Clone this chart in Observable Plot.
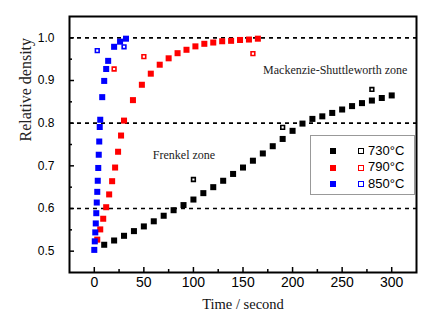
<!DOCTYPE html>
<html><head><meta charset="utf-8">
<script src="https://cdn.jsdelivr.net/npm/d3@7"></script>
<script src="https://cdn.jsdelivr.net/npm/@observablehq/plot@0.6"></script>
<style>
body{margin:0;background:#fff;}
#wrap{position:relative;width:431px;height:322px;}
#legend{position:absolute;left:310px;top:135px;width:105px;height:60px;box-sizing:border-box;border:1px solid #999;background:#fff;font-family:"Liberation Sans",Arial,sans-serif;font-size:13px;color:#000;}
.f{position:absolute;width:6px;height:6px;}
.o{position:absolute;width:6px;height:6px;box-sizing:border-box;border:1.6px solid;background:#fff;}
.t{position:absolute;line-height:14px;white-space:nowrap;}
</style>
</head><body>
<div id="wrap"><div id="legend"></div></div>
<script>
// ---- data ----
const t730 = [10,20,30,40,50,60,70,80,90,100,110,120,130,140,150,160,170,180,190,200,210,220,230,240,250,260,270,280,290,300];
const v730 = [0.515,0.525,0.536,0.547,0.558,0.570,0.583,0.596,0.608,0.621,0.636,0.650,0.665,0.681,0.696,0.712,0.729,0.746,0.763,0.782,0.799,0.810,0.816,0.824,0.832,0.840,0.847,0.853,0.859,0.865];
const t730open = [100,190,280];
const v730open = [0.668,0.790,0.879];

const t790 = [3,6,9,12,15,18,21,24,27,30,39,48,57,66,75,84,93,102,111,120,129,138,147,156,165];
const v790 = [0.527,0.551,0.576,0.603,0.633,0.664,0.696,0.733,0.771,0.806,0.854,0.890,0.916,0.937,0.952,0.964,0.972,0.980,0.986,0.989,0.992,0.993,0.995,0.996,0.998];
const t790open = [20,50,160];
const v790open = [0.927,0.956,0.963];

const t850 = [0,0.5,1,1.5,2,2.5,3,3.5,4,4.5,5,5.5,6,8,10,12,14,20,26,32];
const v850 = [0.503,0.523,0.544,0.565,0.589,0.614,0.639,0.665,0.695,0.726,0.757,0.791,0.808,0.861,0.899,0.927,0.946,0.979,0.991,0.998];
const t850open = [3,30];
const v850open = [0.970,0.979];

const seriesNames = ["730°C","790°C","850°C"];
const seriesColors = ["#000000","#ff0000","#0000ff"];

const xMajor = [0,50,100,150,200,250,300];
const xMinor = [25,75,125,175,225,275];
const yMajor = [0.5,0.6,0.7,0.8,0.9,1.0];
const yMinor = [0.55,0.65,0.75,0.85,0.95];
const dashLevels = [0.6,0.8,1.0];

const notes = [
  {x:243, y:0.924, text:"Mackenzie-Shuttleworth zone"},
  {x:90.5, y:0.725, text:"Frenkel zone"}
];

// ---- build ----
const zip = (t,v) => t.map((d,i)=>({t:d, v:v[i]}));
const filled = [zip(t730,v730), zip(t790,v790), zip(t850,v850)];
const open = [zip(t730open,v730open), zip(t790open,v790open), zip(t850open,v850open)];

const W=431, H=322, mL=69, mR=15, mT=16, mB=50;
const pw = W-mL-mR, ph = H-mT-mB;
const serif = "Liberation Serif, Times New Roman, serif";

const marks = [
  Plot.ruleY(dashLevels, {stroke:"#000", strokeWidth:1.6, strokeDasharray:"4,4"}),
  Plot.axisX(xMajor, {tickSize:0, tickPadding:5, fontSize:14, label:null}),
  Plot.axisY(yMajor, {tickSize:0, tickPadding:15, fontSize:12, tickFormat:d3.format(".1f"), label:null}),
  Plot.tickX(xMajor, {x:d=>d, insetTop:ph-5, stroke:"#000", strokeWidth:1.5}),
  Plot.tickX(xMinor, {x:d=>d, insetTop:ph-3, stroke:"#000", strokeWidth:1.5}),
  Plot.tickY(yMajor, {y:d=>d, insetRight:pw-5, stroke:"#000", strokeWidth:1.5}),
  Plot.tickY(yMinor, {y:d=>d, insetRight:pw-3, stroke:"#000", strokeWidth:1.5}),
];
filled.forEach((d,i)=>{
  marks.push(Plot.dot(d, {x:"t", y:"v", symbol:"square", r:3.4, fill:seriesColors[i], stroke:"none"}));
});
open.forEach((d,i)=>{
  marks.push(Plot.dot(d, {x:"t", y:"v", symbol:"square", r:2.1, fill:"#fff", stroke:seriesColors[i], strokeWidth:1.6}));
});
marks.push(
  Plot.text(notes, {x:"x", y:"y", text:"text", fontFamily:serif, fontSize:12, fill:"#222"}),
  Plot.text(["Time / second"], {frameAnchor:"bottom", dy:36, fontFamily:serif, fontSize:14.5, fill:"#111"}),
  Plot.text(["Relative density"], {frameAnchor:"left", dx:-44, dy:-3, rotate:-90, fontFamily:serif, fontSize:16, fill:"#222"}),
  Plot.frame({stroke:"#000", strokeWidth:2})
);

const chart = Plot.plot({
  width:W, height:H, marginLeft:mL, marginRight:mR, marginTop:mT, marginBottom:mB,
  style:{fontFamily:"Liberation Sans, Arial, sans-serif", fontSize:"13px", background:"#fff", color:"#000"},
  x:{domain:[-25,325]},
  y:{domain:[0.45,1.05]},
  marks
});
const wrap = document.getElementById("wrap");
wrap.insertBefore(chart, wrap.firstChild);

// legend
const lg = document.getElementById("legend");
const rowY = [15, 31.7, 48.3];
seriesNames.forEach((name,i)=>{
  const f = document.createElement("div"); f.className="f";
  f.style.left=(22-3)+"px"; f.style.top=(rowY[i]-3)+"px"; f.style.background=seriesColors[i];
  const o = document.createElement("div"); o.className="o";
  o.style.left=(50-3)+"px"; o.style.top=(rowY[i]-3)+"px"; o.style.borderColor=seriesColors[i];
  const t = document.createElement("div"); t.className="t";
  t.style.left="57px"; t.style.top=(rowY[i]-7.5)+"px"; t.textContent=name;
  lg.append(f,o,t);
});
</script>
</body></html>
